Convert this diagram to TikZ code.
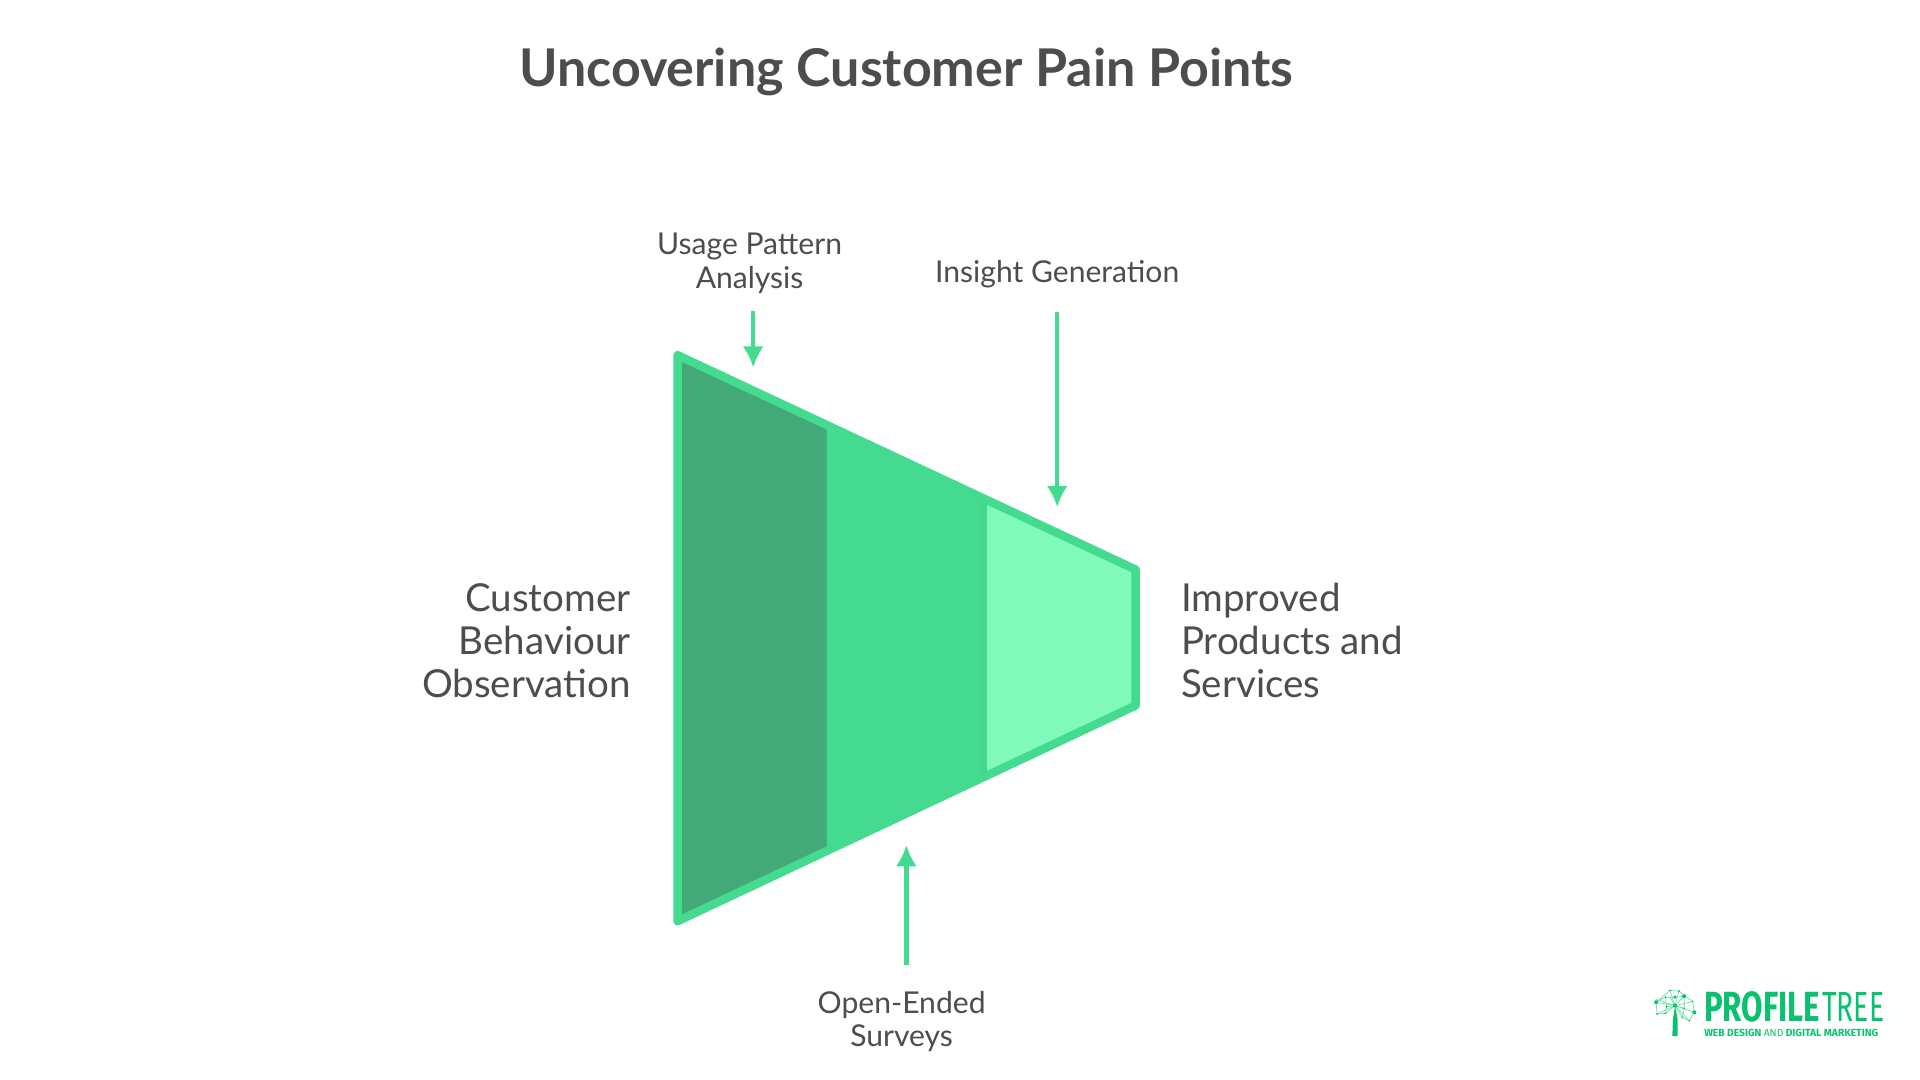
\documentclass[tikz,border=0pt]{standalone}
\usepackage{fontspec}
\usepackage{tikz}
\setmainfont{Lato}
\newfontfamily\logofont{Fira Sans}
\usetikzlibrary{positioning, arrows.meta}
\definecolor{stagedark}{HTML}{43A978}
\definecolor{stagemid}{HTML}{44DB91}
\definecolor{stagelight}{HTML}{7FFABA}
\definecolor{inktext}{HTML}{4D4D4D}
\definecolor{logogreen}{HTML}{0AC16F}
\definecolor{logotwig}{HTML}{6FDDA8}

\begin{document}
\begin{tikzpicture}[
            bigtext/.style={text=inktext, font=\fontsize{27.4}{30.5}\selectfont, inner sep=0pt},
            smalltext/.style={text=inktext, font=\fontsize{21.4}{23.7}\selectfont, align=center, inner sep=0pt},
            flowarrow/.style={stagemid, line width=3.2pt, -{Latex[length=15pt, width=15pt]}},
            twigdot/.style={logogreen, fill},
            logoword/.style={logogreen, anchor=base west, inner sep=0pt, transform shape}
        ]
            \useasboundingbox (0,0) rectangle (48,27);

            \node (title) at (22.66,25.2) {\fontsize{37}{42}\selectfont\bfseries\color{inktext}Uncovering Customer Pain Points};

            % the three stages of the funnel
            \fill[stagedark] (16.94,18.12) -- (20.67,16.374) -- (20.67,5.726) -- (16.94,3.97) -- cycle;
            \fill[stagemid] (20.67,16.374) -- (24.65,14.51) -- (24.65,7.6) -- (20.67,5.726) -- cycle;
            \fill[stagelight] (24.65,14.51) -- (28.39,12.76) -- (28.39,9.36) -- (24.65,7.6) -- cycle;
            \draw[stagemid, line width=6pt, line join=round] (16.94,18.12) -- (28.39,12.76) -- (28.39,9.36) -- (16.94,3.97) -- cycle;
            \draw[stagemid!98!black, line width=4pt] (24.6,14.51) -- (24.6,7.6);

            \node[bigtext, align=right, anchor=east] (behaviour) at (15.77,10.98) {Customer\\Behaviour\\Observation};
            \node[bigtext, align=left, anchor=west] (products) at (29.52,10.98) {Improved\\Products and\\Services};

            \node[smalltext] (usage) at (18.74,20.42) {Usage Pattern\\Analysis};
            \node[smalltext] (insight) at (26.43,20.14) {Insight Generation};
            \node[smalltext] (surveys) at (22.54,1.46) {Open-Ended\\Surveys};

            \coordinate (usagetip) at (18.83,17.81);
            \coordinate (insighttip) at (26.43,14.32);
            \coordinate (surveystip) at (22.66,5.87);

            \draw[flowarrow, shorten <=12.8pt] (usage.south -| usagetip) -- (usagetip);
            \draw[flowarrow, shorten <=16.8pt] (insight.south -| insighttip) -- (insighttip);
            \draw[flowarrow, shorten <=18.7pt] (surveys.north -| surveystip) -- (surveystip);

            % logo
            \begin{scope}[shift={(41.875,1.775)}, x=0.00845cm, y=-0.00845cm]
                \foreach \a/\b in {-56/-20, -56/-28, -15/-55, -15/-35, 12/-53, 27/-38, 52/-22, 57/10, -53/15, -25/-7, 27/-2, 42/35, -28/13, 22/25} {
                    \draw[logotwig, line width=0.5pt] (\a,\b) -- (0,-10);
                }
                \draw[logotwig, line width=0.5pt] (-56,-20) -- (-15,-55) -- (12,-53) -- (52,-22) -- (57,10) -- (42,35) -- (22,25) -- (27,-2) -- (27,-38) -- (0,-35) -- (-28,-35) -- (-56,-20) -- (-53,15) -- (-28,13) -- (-25,-7) -- (-28,-35);
                \foreach \a/\b/\r in {-56/-20/6, -15/-55/3, 12/-53/3, 27/-38/6, 0/-35/5, -28/-35/3, 52/-22/3, 57/10/6, -53/15/3, -25/-7/3, 0/-10/6, 27/-2/3, 42/35/3, -28/13/3, 22/25/3} {
                    \fill[twigdot] (\a,\b) circle (\r);
                }
                \fill[logogreen] (0,-10) -- (8,30) -- (8,80) -- (-8,80) -- (-6,30) -- cycle;
            \end{scope}
            \node[logoword, xscale=0.74] (profile) at (42.6,1.45) {\logofont\fontsize{30}{30}\selectfont\bfseries PROFILE};
            \node[logoword, xscale=0.67] (treeword) at (45.55,1.45) {\logofont\fontsize{30}{30}\selectfont TREE};
            \node[logogreen, anchor=west, inner sep=0pt] (strapline) at (42.6,1.17) {\logofont\fontsize{7.3}{8}\selectfont\bfseries WEB DESIGN {\mdseries AND} DIGITAL MARKETING};
        \end{tikzpicture}
\end{document}
